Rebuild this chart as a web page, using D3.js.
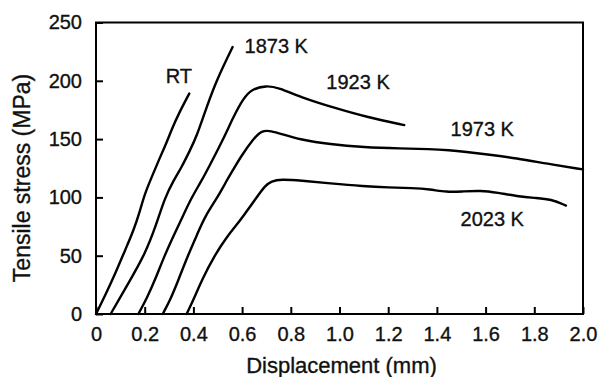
<!DOCTYPE html>
<html>
<head>
<meta charset="utf-8">
<script src="https://cdn.jsdelivr.net/npm/d3@7"></script>
<style>
  body { margin: 0; background: #fff; }
  svg text { font-family: "Liberation Sans", Arial, sans-serif; fill: #111; stroke: #111; stroke-width: 0.35; }
  .curve { fill: none; stroke: #000; stroke-width: 2.4; stroke-linejoin: round; stroke-linecap: round; }
  .frame { fill: none; stroke: #000; stroke-width: 2; }
</style>
</head>
<body>
<svg id="chart" width="600" height="377"></svg>
<script>
// stress-displacement curves: [displacement (mm), stress (MPa)]
var curveRT = [[0,0],[0.04,17],[0.08,35],[0.12,55],[0.155,72],[0.18,88],[0.2,103],
  [0.23,118],[0.26,133],[0.29,147],[0.31,158],[0.34,172],[0.383,189]];
var curve1873 = [[0.06,0],[0.085,9],[0.14,29],[0.2,51],[0.245,75],[0.283,100],[0.32,115],
  [0.352,126],[0.385,140],[0.413,152],[0.455,178],[0.496,201],[0.561,229]];
var curve1923 = [[0.174,0],[0.21,14],[0.242,29],[0.283,51],[0.325,70],[0.359,85],[0.393,100],
  [0.43,113],[0.461,125],[0.523,150],[0.564,169],[0.605,185],[0.64,193],[0.70,196],
  [0.75,194],[0.84,186],[0.975,177],[1.11,169],[1.266,162]];
var curve1973 = [[0.274,0],[0.305,12],[0.338,29],[0.379,51],[0.415,68],[0.448,84],[0.502,101],
  [0.53,112],[0.564,124],[0.598,136],[0.646,150],[0.68,157.5],[0.72,157],[0.76,154.5],
  [0.84,149.5],[0.96,145.5],[1.1,143],[1.25,142],[1.37,141.5],[1.45,140.5],[1.52,139],
  [1.6,137],[1.73,133.5],[1.85,129],[2.0,124]];
var curve2023 = [[0.372,0],[0.40,12],[0.434,29],[0.489,51],[0.537,66],[0.572,75],[0.605,84],
  [0.66,100],[0.694,110],[0.72,114],[0.76,115.5],[0.84,114.5],[0.96,112],[1.1,109.5],
  [1.2,108.5],[1.3,108],[1.37,107],[1.44,104.5],[1.5,105],[1.58,106],[1.65,104],
  [1.73,101],[1.8,99.5],[1.87,98.5],[1.93,93]];

var curveLabels = ["RT", "1873 K", "1923 K", "1973 K", "2023 K"];
// label anchor points in data units (left/baseline of text)
var labelX = [0.286, 0.61, 0.946, 1.456, 1.497];
var labelY = [198, 224, 193, 153, 75.5];

var xTicks = [0, 0.2, 0.4, 0.6, 0.8, 1.0, 1.2, 1.4, 1.6, 1.8, 2.0];
var yTicks = [0, 50, 100, 150, 200, 250];

var svg = d3.select('#chart');
var margin = {top: 22.5, right: 17, bottom: 63, left: 96};
var width = 600 - margin.left - margin.right;
var height = 377 - margin.top - margin.bottom;

var x = d3.scaleLinear().domain([0, 2.0]).range([0, width]);
var y = d3.scaleLinear().domain([0, 250]).range([height, 0]);

var g = svg.append('g')
    .attr('transform', 'translate(' + margin.left + ',' + margin.top + ')');

// axes: ticks point inward
var xAxis = g.append('g')
    .attr('transform', 'translate(0,' + height + ')')
    .call(d3.axisBottom(x).tickValues(xTicks).tickSizeInner(-7).tickSizeOuter(0)
      .tickPadding(13).tickFormat(function(d) { return d === 0 ? '0' : d3.format('.1f')(d); }));
var yAxis = g.append('g')
    .call(d3.axisLeft(y).tickValues(yTicks).tickSizeInner(-7).tickSizeOuter(0)
      .tickPadding(14));

[xAxis, yAxis].forEach(function(a) {
  a.select('.domain').remove();
  a.selectAll('.tick line').attr('stroke', '#000').attr('stroke-width', 2);
  a.selectAll('.tick text').attr('font-size', 20).attr('fill', '#111')
    .style('font-family', '"Liberation Sans", Arial, sans-serif');
});

g.append('rect')
    .attr('class', 'frame')
    .attr('width', width)
    .attr('height', height);

var line = d3.line()
    .x(function(d) { return x(d[0]); })
    .y(function(d) { return y(d[1]); })
    .curve(d3.curveBasis);

var allCurves = [curveRT, curve1873, curve1923, curve1973, curve2023];
g.selectAll('path.curve')
    .data(allCurves)
  .enter().append('path')
    .attr('class', 'curve')
    .attr('d', line);

g.selectAll('text.curve-label')
    .data(curveLabels)
  .enter().append('text')
    .attr('class', 'curve-label')
    .attr('x', function(d, i) { return x(labelX[i]); })
    .attr('y', function(d, i) { return y(labelY[i]); })
    .attr('font-size', 20)
    .text(function(d) { return d; });

// axis titles
svg.append('text')
    .attr('x', margin.left + width / 2 + 2)
    .attr('y', 373)
    .attr('text-anchor', 'middle')
    .attr('font-size', 22)
    .text('Displacement (mm)');

svg.append('text')
    .attr('transform', 'translate(30,' + 178 + ') rotate(-90)')
    .attr('text-anchor', 'middle')
    .attr('font-size', 23)
    .text('Tensile stress (MPa)');
</script>
</body>
</html>
